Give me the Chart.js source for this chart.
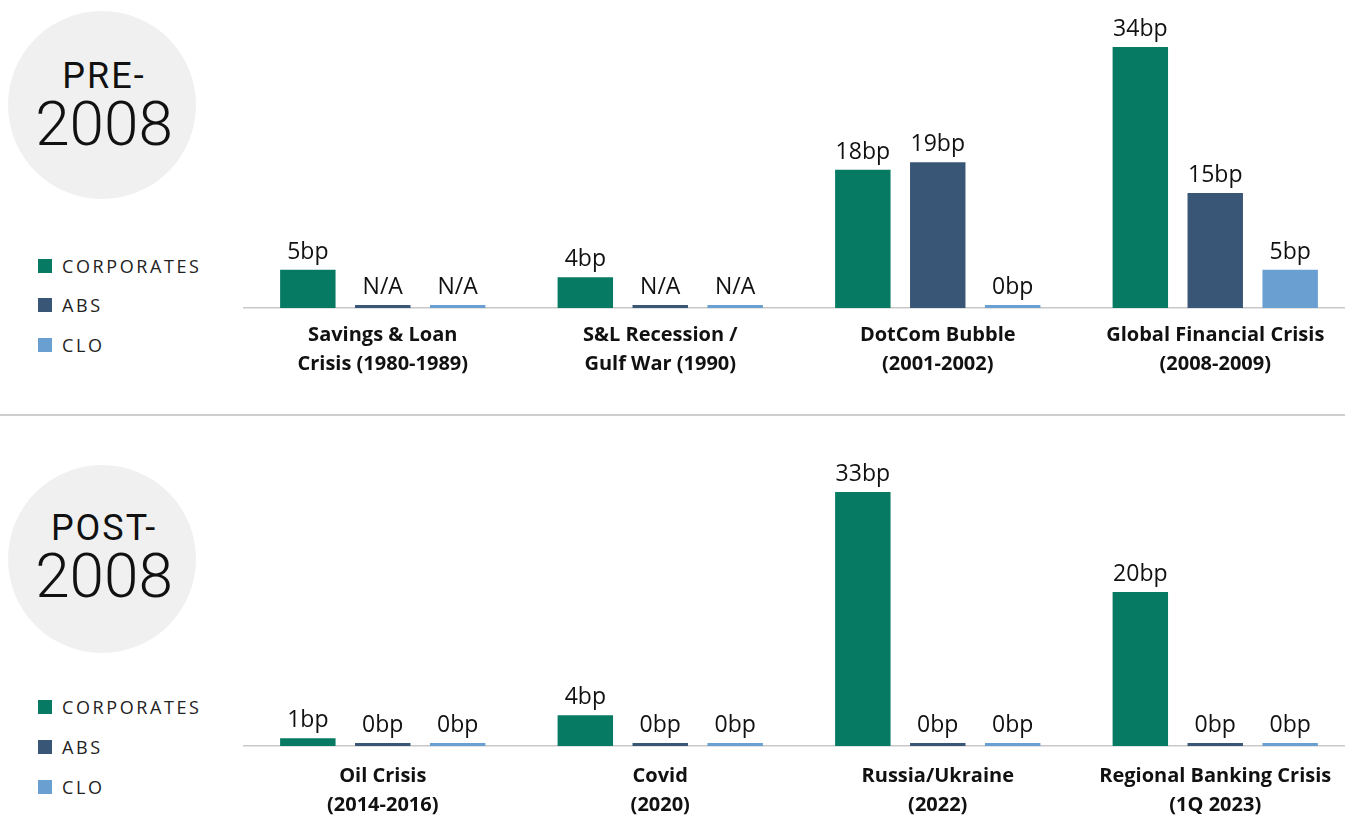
<!DOCTYPE html>
<html>
<head>
<meta charset="utf-8">
<script src="https://cdn.jsdelivr.net/npm/chart.js@4"></script>
<style>
  html, body { margin: 0; padding: 0; background: #fff; overflow: hidden; }
  body { width: 1345px; height: 815px; position: relative; font-family: "Open Sans", sans-serif; }
  .circle { position: absolute; left: 8px; width: 188px; height: 188px; border-radius: 50%; background: #f0f0f0; }
  .ctext { position: absolute; left: 0; width: 208px; text-align: center; font-family: Roboto, sans-serif; color: #111; line-height: 1; white-space: nowrap; }
  .small { font-size: 36px; font-weight: 400; letter-spacing: 2px; }
  .big { font-size: 62px; font-weight: 300; }
  .leg { position: absolute; left: 38px; height: 20px; display: flex; align-items: center; font-size: 18px; letter-spacing: 2.6px; color: #222; }
  .leg span { display: inline-block; width: 14px; height: 14px; margin-right: 10px; }
  .sep { position: absolute; left: 0; top: 414px; width: 1345px; height: 1.5px; background: #cfcfcf; }
  canvas { position: absolute; left: 0; }
</style>
</head>
<body>
<div class="circle" style="top:11px"></div>
<div class="ctext small" style="top:58px">PRE-</div>
<div class="ctext big" style="top:93px">2008</div>
<div class="circle" style="top:465px"></div>
<div class="ctext small" style="top:510px">POST-</div>
<div class="ctext big" style="top:545px">2008</div>

<div id="legendTop"></div>
<div id="legendBottom"></div>
<div class="sep"></div>

<canvas id="topChart" width="1354" height="395" style="top:0px"></canvas>
<canvas id="bottomChart" width="1354" height="400" style="top:420px"></canvas>

<script>
// series names + colours
const seriesNames = ["CORPORATES", "ABS", "CLO"];
const seriesColors = ["#067a62", "#3a5677", "#6a9fd1"];

// pre-2008
const topCategories = [["Savings & Loan", "Crisis (1980-1989)"], ["S&L Recession /", "Gulf War (1990)"], ["DotCom Bubble", "(2001-2002)"], ["Global Financial Crisis", "(2008-2009)"]];
const topCorporates = [5, 4, 18, 34];
const topAbs = [null, null, 19, 15];   // null = N/A
const topClo = [null, null, 0, 5];

// post-2008
const bottomCategories = [["Oil Crisis", "(2014-2016)"], ["Covid", "(2020)"], ["Russia/Ukraine", "(2022)"], ["Regional Banking Crisis", "(1Q 2023)"]];
const bottomCorporates = [1, 4, 33, 20];
const bottomAbs = [0, 0, 0, 0];
const bottomClo = [0, 0, 0, 0];

function buildLegend(id, centers) {
    const box = document.getElementById(id);
    seriesNames.forEach(function (name, i) {
        const row = document.createElement('div');
        row.className = 'leg';
        row.style.top = (centers[i] - 10) + 'px';
        const sq = document.createElement('span');
        sq.style.background = seriesColors[i];
        row.append(sq, name);
        box.append(row);
    });
}
buildLegend('legendTop', [266, 305, 345]);
buildLegend('legendBottom', [707, 747, 787]);

// value labels above bars ("N/A" where data missing)
const barLabels = {
    id: 'barLabels',
    afterDatasetsDraw(chart) {
        const ctx = chart.ctx;
        ctx.save();
        ctx.font = '23px "Open Sans"';
        ctx.fillStyle = '#111';
        ctx.textAlign = 'center';
        ctx.textBaseline = 'alphabetic';
        chart.data.datasets.forEach(function (ds, i) {
            chart.getDatasetMeta(i).data.forEach(function (bar, j) {
                const raw = ds.raw[j];
                const txt = raw === null ? 'N/A' : raw + 'bp';
                ctx.fillText(txt, bar.x, bar.y - 11);
            });
        });
        ctx.restore();
    }
};

function makeChart(canvasId, categories, series, axisHeight, padTop, tickPad) {
    const datasets = series.map(function (vals, i) {
        return {
            label: seriesNames[i],
            raw: vals,
            data: vals.map(v => v === null ? 0 : v),
            backgroundColor: seriesColors[i],
            borderWidth: 0,
            minBarLength: 3,
            categoryPercentage: 0.81,
            barPercentage: 0.74
        };
    });
    return new Chart(document.getElementById(canvasId), {
        type: 'bar',
        data: { labels: categories, datasets: datasets },
        options: {
            responsive: false,
            animation: false,
            layout: { padding: { left: 244, right: 0, top: padTop, bottom: 0 } },
            plugins: { legend: { display: false }, tooltip: { enabled: false } },
            scales: {
                x: {
                    grid: { display: false },
                    border: { display: true, color: '#c8c8c8', width: 1.5 },
                    ticks: {
                        color: '#111',
                        padding: tickPad,
                        maxRotation: 0,
                        autoSkip: false,
                        font: { family: 'Open Sans', size: 20, weight: 'bold', lineHeight: 1.45 }
                    },
                    afterFit: function (scale) { scale.height = axisHeight; }
                },
                y: { display: false, min: 0, max: 40 }
            }
        },
        plugins: [barLabels]
    });
}

makeChart('topChart', topCategories, [topCorporates, topAbs, topClo], 87, 1, 5);
makeChart('bottomChart', bottomCategories, [bottomCorporates, bottomAbs, bottomClo], 74, 18, 8);
</script>
</body>
</html>
